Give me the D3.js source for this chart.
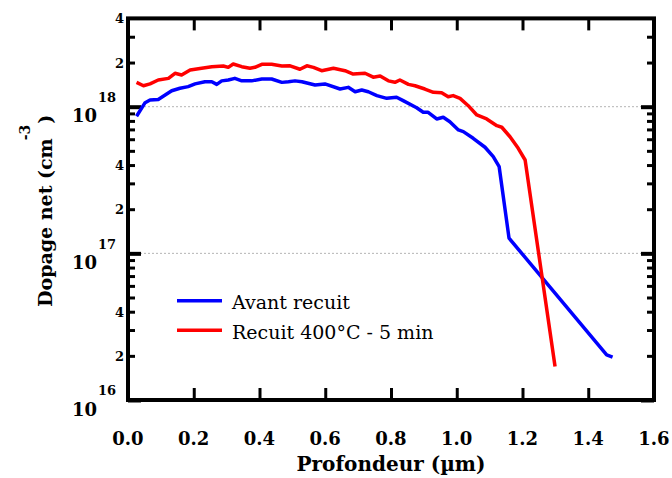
<!DOCTYPE html>
<html>
<head>
<meta charset="utf-8">
<script src="https://cdn.jsdelivr.net/npm/d3@7"></script>
<style>
  body { margin: 0; background: #fff; }
  svg { display: block; font-family: "DejaVu Serif", serif; }
</style>
</head>
<body>
<div id="chart"></div>
<script>
// ========================
// Data
// ========================
const seriesNames = ["Avant recuit", "Recuit 400°C - 5 min"];
const seriesColors = ["#0000ff", "#ff0000"];

// Avant recuit
const avantDepth = [0.026, 0.052, 0.067, 0.092, 0.113, 0.133, 0.158, 0.183, 0.204, 0.234,
  0.255, 0.270, 0.285, 0.305, 0.325, 0.346, 0.376, 0.407, 0.437, 0.468,
  0.488, 0.508, 0.529, 0.569, 0.599, 0.645, 0.670, 0.691, 0.711, 0.731,
  0.757, 0.787, 0.817, 0.837, 0.878, 0.898, 0.913, 0.939, 0.959, 0.979,
  1.005, 1.020, 1.050, 1.086, 1.111, 1.129, 1.159, 1.456, 1.474];
const avantDoping = [8.6e17, 1.065e18, 1.11e18, 1.12e18, 1.20e18, 1.285e18, 1.335e18, 1.37e18, 1.43e18, 1.48e18,
  1.48e18, 1.42e18, 1.50e18, 1.52e18, 1.56e18, 1.50e18, 1.50e18, 1.545e18, 1.545e18, 1.465e18,
  1.48e18, 1.50e18, 1.48e18, 1.405e18, 1.43e18, 1.32e18, 1.355e18, 1.265e18, 1.30e18, 1.265e18,
  1.19e18, 1.14e18, 1.16e18, 1.10e18, 9.84e17, 9.16e17, 9.16e17, 8.25e17, 8.47e17, 7.9e17,
  6.94e17, 6.76e17, 6.09e17, 5.29e17, 4.56e17, 3.90e17, 1.27e17, 2.03e16, 1.96e16];

// Recuit 400°C - 5 min
const recuitDepth = [0.026, 0.047, 0.067, 0.092, 0.123, 0.143, 0.163, 0.189, 0.224, 0.255,
  0.290, 0.305, 0.320, 0.346, 0.371, 0.386, 0.407, 0.437, 0.468, 0.493,
  0.523, 0.544, 0.564, 0.589, 0.625, 0.660, 0.685, 0.721, 0.746, 0.767,
  0.792, 0.812, 0.827, 0.853, 0.873, 0.903, 0.929, 0.954, 0.974, 0.989,
  1.010, 1.035, 1.061, 1.091, 1.122, 1.137, 1.162, 1.187, 1.208, 1.299];
const recuitDoping = [1.466e18, 1.39e18, 1.43e18, 1.52e18, 1.56e18, 1.69e18, 1.645e18, 1.78e18, 1.83e18, 1.875e18,
  1.895e18, 1.855e18, 1.955e18, 1.875e18, 1.83e18, 1.855e18, 1.945e18, 1.945e18, 1.895e18, 1.90e18,
  1.80e18, 1.90e18, 1.855e18, 1.76e18, 1.83e18, 1.76e18, 1.67e18, 1.69e18, 1.59e18, 1.62e18,
  1.50e18, 1.466e18, 1.52e18, 1.42e18, 1.39e18, 1.32e18, 1.254e18, 1.246e18, 1.17e18, 1.19e18,
  1.14e18, 1.016e18, 8.78e17, 8.25e17, 7.42e17, 7.24e17, 6.24e17, 5.20e17, 4.33e17, 1.69e16];

const xTicks = [0, 0.2, 0.4, 0.6, 0.8, 1.0, 1.2, 1.4, 1.6];
const yMajor = [1e16, 1e17, 1e18];
const yExponents = ["16", "17", "18"];
const yMinor = [2e16, 3e16, 4e16, 5e16, 6e16, 7e16, 8e16, 9e16,
  2e17, 3e17, 4e17, 5e17, 6e17, 7e17, 8e17, 9e17,
  2e18, 3e18];
const yMinorLabelled = [2e16, 4e16, 2e17, 4e17, 2e18, 4e18];
const yMinorLabels = ["2", "4", "2", "4", "2", "4"];

// ========================
// Setup
// ========================
const width = 672, height = 478;
const plotLeft = 128, plotRight = 654, plotTop = 18.4, plotBottom = 400;

const svg = d3.select("#chart").append("svg")
  .attr("width", width)
  .attr("height", height);

svg.append("rect").attr("width", width).attr("height", height).attr("fill", "#fff");

const x = d3.scaleLinear().domain([0, 1.6]).range([plotLeft, plotRight]);
const y = d3.scaleLog().domain([1e16, 4e18]).range([plotBottom, plotTop]);

// dotted grid lines at decades
svg.append("g")
  .selectAll("line")
  .data([1e17, 1e18])
  .enter()
  .append("line")
  .attr("x1", plotLeft).attr("x2", plotRight)
  .attr("y1", d => y(d)).attr("y2", d => y(d))
  .attr("stroke", "#b4b4b4")
  .attr("stroke-width", 1)
  .attr("stroke-dasharray", "2,2");

// ========================
// Axes (ticks point inward)
// ========================
function styleAxis(g, w) {
  g.select(".domain").remove();
  g.selectAll(".tick line").attr("stroke", "#000").attr("stroke-width", w);
  g.selectAll(".tick text").remove();
}

svg.append("g").attr("transform", `translate(0,${plotBottom})`)
  .call(d3.axisBottom(x).tickValues(xTicks).tickSizeInner(-12).tickSizeOuter(0))
  .call(g => styleAxis(g, 3));

svg.append("g").attr("transform", `translate(0,${plotTop})`)
  .call(d3.axisTop(x).tickValues(xTicks).tickSizeInner(-12).tickSizeOuter(0))
  .call(g => styleAxis(g, 3));

[[d3.axisLeft, plotLeft], [d3.axisRight, plotRight]].forEach(([axisFn, pos]) => {
  svg.append("g").attr("transform", `translate(${pos},0)`)
    .call(axisFn(y).tickValues(yMajor).tickSizeInner(-13).tickSizeOuter(0))
    .call(g => styleAxis(g, 4));
  svg.append("g").attr("transform", `translate(${pos},0)`)
    .call(axisFn(y).tickValues(yMinor).tickSizeInner(-7).tickSizeOuter(0))
    .call(g => styleAxis(g, 3));
});

// frame
svg.append("rect")
  .attr("x", plotLeft).attr("y", plotTop)
  .attr("width", plotRight - plotLeft).attr("height", plotBottom - plotTop)
  .attr("fill", "none")
  .attr("stroke", "#000")
  .attr("stroke-width", 4);

// x tick labels
svg.append("g")
  .selectAll("text")
  .data(xTicks)
  .enter()
  .append("text")
  .attr("x", d => x(d))
  .attr("y", 445)
  .attr("text-anchor", "middle")
  .attr("font-size", 18)
  .attr("font-weight", "bold")
  .text(d => d.toFixed(1));

// y decade labels: 10^n
const decade = svg.append("g")
  .selectAll("g")
  .data(yMajor)
  .enter()
  .append("g");

decade.append("text")
  .attr("x", 97)
  .attr("y", d => y(d) + 15.5)
  .attr("text-anchor", "end")
  .attr("font-size", 18)
  .attr("font-weight", "bold")
  .text("10");

decade.append("text")
  .attr("x", 98)
  .attr("y", d => y(d) - 4.8)
  .attr("font-size", 13)
  .attr("font-weight", "bold")
  .text((d, i) => yExponents[i]);

// y minor labels (2, 4)
svg.append("g")
  .selectAll("text")
  .data(yMinorLabelled)
  .enter()
  .append("text")
  .attr("x", 124)
  .attr("y", d => y(d) + 5)
  .attr("text-anchor", "end")
  .attr("font-size", 13)
  .attr("font-weight", "bold")
  .text((d, i) => yMinorLabels[i]);

// axis titles
svg.append("text")
  .attr("x", (plotLeft + plotRight) / 2)
  .attr("y", 471)
  .attr("text-anchor", "middle")
  .attr("font-size", 20)
  .attr("font-weight", "bold")
  .text("Profondeur (µm)");

const yTitle = svg.append("text")
  .attr("transform", "translate(52,307) rotate(-90)")
  .attr("font-size", 19)
  .attr("font-weight", "bold");
yTitle.append("tspan").text("Dopage net (cm");
yTitle.append("tspan").attr("dy", -22).attr("dx", -2).attr("font-size", 14).text("-3");
yTitle.append("tspan").attr("dy", 22).attr("dx", 1).text(")");

// ========================
// Curves
// ========================
const series = [
  avantDepth.map((d, i) => ({ x: d, y: avantDoping[i] })),
  recuitDepth.map((d, i) => ({ x: d, y: recuitDoping[i] }))
];

const line = d3.line()
  .x(d => x(d.x))
  .y(d => y(d.y));

svg.append("g")
  .selectAll("path")
  .data(series)
  .enter()
  .append("path")
  .attr("d", line)
  .attr("fill", "none")
  .attr("stroke", (d, i) => seriesColors[i])
  .attr("stroke-width", 3.5)
  .attr("stroke-linejoin", "round");

// ========================
// Legend
// ========================
const legend = svg.append("g")
  .selectAll("g")
  .data(seriesNames)
  .enter()
  .append("g")
  .attr("transform", (d, i) => `translate(0,${300.7 + i * 29.5})`);

legend.append("line")
  .attr("x1", 177).attr("x2", 222)
  .attr("stroke", (d, i) => seriesColors[i])
  .attr("stroke-width", 3.5);

legend.append("text")
  .attr("x", 232)
  .attr("y", 8.5)
  .attr("font-size", 19)
  .text(d => d);
</script>
</body>
</html>
